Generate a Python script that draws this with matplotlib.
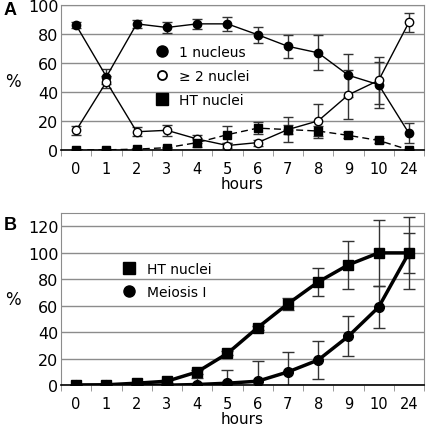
import numpy as np
import matplotlib
matplotlib.use('Agg')
import matplotlib.pyplot as plt
from matplotlib.lines import Line2D

hours = ['0', '1', '2', '3', '4', '5', '6', '7', '8', '9', '10', '24']

# panel A
one_nucleus = [86, 50.5, 87, 84.5, 87, 87, 79.5, 71.5, 67, 51.5, 45, 11.5]
one_nucleus_err = [2, 5, 3, 4, 3.5, 5, 5.5, 8, 12, 15, 16, 7]
two_nuclei = [13.5, 47, 12.5, 13.5, 7.5, 3, 5, 14, 20, 38, 48, 88]
two_nuclei_err = [3, 4, 3, 4, 3, 2, 2, 8.5, 12, 17, 16, 6.5]
ht_a = [0, 0, 0.5, 1.5, 5, 10.5, 15, 14, 13, 10, 6.5, 0]
ht_a_err = [0.3, 0.3, 0.5, 0.5, 3, 6, 4, 3, 3.5, 2, 1.5, 0.3]

# panel B
ht_b = [0, 0.3, 1.5, 3, 10, 24, 43.5, 61.5, 78, 91, 100, 100]
ht_b_err = [0.3, 0.3, 0.5, 1, 1.5, 1.5, 1.5, 4.5, 10.5, 18, 25, 15]
meiosis = [0, 0, 0, 0, 0.5, 1.5, 3, 10, 19, 37, 59, 100]
meiosis_err = [0, 0, 0, 0, 5, 10, 15, 15, 14.5, 15, 16, 27]

x = np.arange(len(hours))

fig = plt.figure(figsize=(4.27, 4.31), dpi=100)
axA = fig.add_axes([0.143, 0.650, 0.850, 0.336])
axB = fig.add_axes([0.143, 0.104, 0.850, 0.399])

grid_c = '#8c8c8c'
err_c = '#333333'


def style_axis(ax, ymax, step):
    ax.set_xlim(-0.5, len(hours) - 0.5)
    ax.set_ylim(0, ymax)
    ax.set_yticks(np.arange(0, ymax + 1, step))
    ax.set_xticks(x)
    ax.set_xticklabels(hours)
    ax.set_xticks(np.arange(-0.5, len(hours), 1), minor=True)
    ax.tick_params(axis='x', which='major', length=0, pad=8, labelsize=10.5)
    ax.tick_params(axis='x', which='minor', length=4, color=grid_c, direction='out')
    ax.tick_params(axis='y', length=0, pad=2, labelsize=11.5)
    ax.yaxis.grid(True, color=grid_c, linewidth=1)
    ax.set_axisbelow(True)
    for s in ['left', 'right', 'top']:
        ax.spines[s].set_color(grid_c)
    ax.spines['bottom'].set_color('black')
    ax.spines['bottom'].set_linewidth(1.2)
    ax.set_xlabel('hours', fontsize=11, labelpad=0)


style_axis(axA, 100, 20)
style_axis(axB, 130, 20)
axB.set_yticks(np.arange(0, 121, 20))

# panel A series
eb = dict(ecolor=err_c, elinewidth=1, capsize=3.5, capthick=1)
axA.errorbar(x, one_nucleus, yerr=one_nucleus_err, color='black', lw=1,
             marker='o', ms=6, mfc='black', **eb)
axA.errorbar(x, two_nuclei, yerr=two_nuclei_err, color='black', lw=1,
             marker='o', ms=6, mfc='white', mew=1, **eb)
axA.errorbar(x, ht_a, yerr=ht_a_err, color='black', lw=1, ls=(0, (5, 3)),
             marker='s', ms=5.5, mfc='black', **eb)

handlesA = [Line2D([], [], ls='none', marker='o', ms=8, color='black'),
            Line2D([], [], ls='none', marker='o', ms=6.5, mfc='white', mec='black', mew=1.3),
            Line2D([], [], ls='none', marker='s', ms=8, color='black')]
axA.legend(handlesA, ['1 nucleus', '\u2265 2 nuclei', 'HT nuclei'],
           loc='upper left', bbox_to_anchor=(0.225, 0.81), frameon=False,
           handlelength=1, handletextpad=0.7, labelspacing=0.72,
           prop={'family': 'DejaVu Sans', 'size': 10})

# panel B series
ebB = dict(ecolor=err_c, elinewidth=1, capsize=4, capthick=1)
axB.errorbar(x, ht_b, yerr=ht_b_err, color='black', lw=2.5,
             marker='s', ms=6.5, mfc='black', **ebB)
axB.errorbar(x, meiosis, yerr=meiosis_err, color='black', lw=2.5,
             marker='o', ms=7, mfc='black', **ebB)

handlesB = [Line2D([], [], ls='none', marker='s', ms=8, color='black'),
            Line2D([], [], ls='none', marker='o', ms=8, color='black')]
axB.legend(handlesB, ['HT nuclei', 'Meiosis I'],
           loc='upper left', bbox_to_anchor=(0.133, 0.79), frameon=False,
           handlelength=1, handletextpad=0.8, labelspacing=0.65,
           prop={'family': 'DejaVu Sans', 'size': 10})

fig.text(0.03, 1 - 82 / 431, '%', fontsize=12, ha='center', va='center')
fig.text(0.03, 1 - 300 / 431, '%', fontsize=12, ha='center', va='center')
fig.text(0.008, 0.995, 'A', fontsize=13, fontweight='bold', va='top',
         family='Liberation Sans')
fig.text(0.008, 0.497, 'B', fontsize=13, fontweight='bold', va='top',
         family='Liberation Sans')

fig.savefig('out.png', dpi=100)
